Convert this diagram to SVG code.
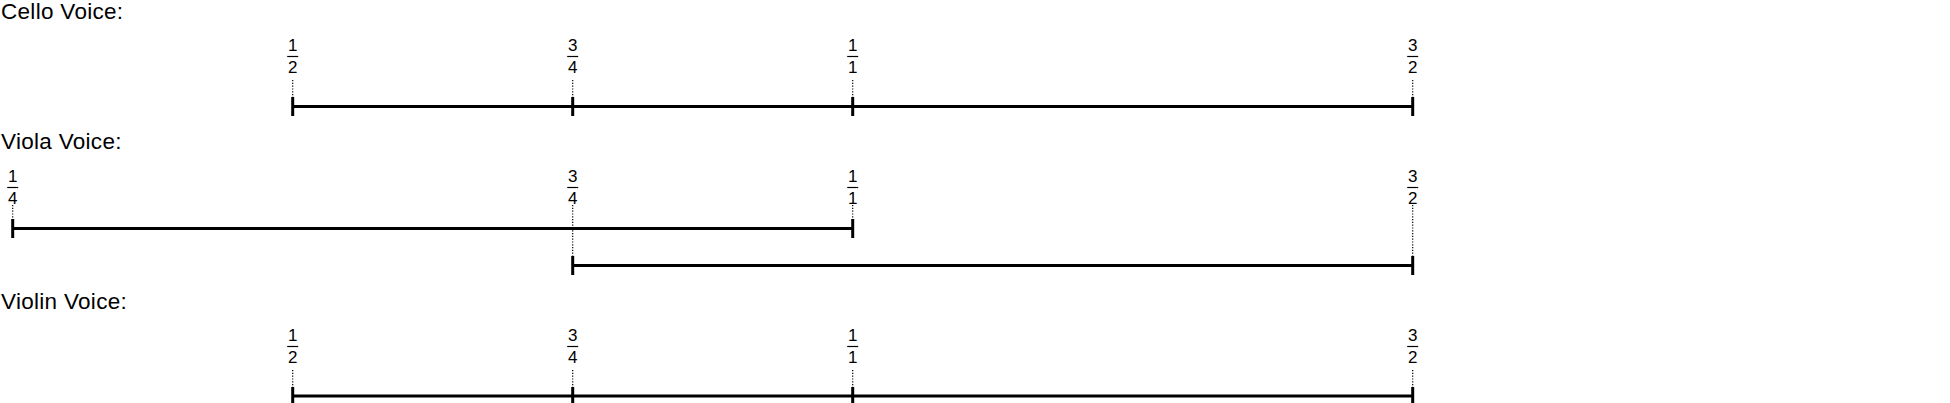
<svg xmlns="http://www.w3.org/2000/svg" width="1950" height="403" viewBox="0 0 1950 403">
<style>
.title{font-family:"Liberation Sans",Arial,sans-serif;font-size:22.5px;letter-spacing:0.3px;fill:#000}
.num{font-family:"Liberation Sans",Arial,sans-serif;font-size:17px;fill:#000;text-anchor:middle}
.bar{stroke:#000;stroke-width:1.2}
.dot{stroke:#000;stroke-width:1.2;stroke-dasharray:1.2 1.6}
.tick{stroke:#000;stroke-width:3}
.span{stroke:#000;stroke-width:2.8}
</style>
<rect width="1950" height="403" fill="#fff"/>

<g id="cello">
  <text class="title" x="1" y="19">Cello Voice:</text>
  <g id="cello-1-2"><text class="num" x="292.7" y="51">1</text><line class="bar" x1="287.2" y1="56.5" x2="298.2" y2="56.5"/><text class="num" x="292.7" y="72.5">2</text><line class="dot" x1="292.7" y1="80" x2="292.7" y2="97"/><line class="tick" x1="292.7" y1="97" x2="292.7" y2="116"/></g>
  <g id="cello-3-4"><text class="num" x="572.7" y="51">3</text><line class="bar" x1="567.2" y1="56.5" x2="578.2" y2="56.5"/><text class="num" x="572.7" y="72.5">4</text><line class="dot" x1="572.7" y1="80" x2="572.7" y2="97"/><line class="tick" x1="572.7" y1="97" x2="572.7" y2="116"/></g>
  <g id="cello-1-1"><text class="num" x="852.7" y="51">1</text><line class="bar" x1="847.2" y1="56.5" x2="858.2" y2="56.5"/><text class="num" x="852.7" y="72.5">1</text><line class="dot" x1="852.7" y1="80" x2="852.7" y2="97"/><line class="tick" x1="852.7" y1="97" x2="852.7" y2="116"/></g>
  <g id="cello-3-2"><text class="num" x="1412.7" y="51">3</text><line class="bar" x1="1407.2" y1="56.5" x2="1418.2" y2="56.5"/><text class="num" x="1412.7" y="72.5">2</text><line class="dot" x1="1412.7" y1="80" x2="1412.7" y2="97"/><line class="tick" x1="1412.7" y1="97" x2="1412.7" y2="116"/></g>
</g>

<g id="viola">
  <text class="title" x="1" y="149">Viola Voice:</text>
  <g id="viola-1-4"><text class="num" x="12.7" y="182">1</text><line class="bar" x1="7.2" y1="187.5" x2="18.2" y2="187.5"/><text class="num" x="12.7" y="203.5">4</text><line class="dot" x1="12.7" y1="205" x2="12.7" y2="220"/><line class="tick" x1="12.7" y1="219" x2="12.7" y2="238"/></g>
  <g id="viola-3-4"><text class="num" x="572.7" y="182">3</text><line class="bar" x1="567.2" y1="187.5" x2="578.2" y2="187.5"/><text class="num" x="572.7" y="203.5">4</text><line class="dot" x1="572.7" y1="205" x2="572.7" y2="257"/><line class="tick" x1="572.7" y1="256" x2="572.7" y2="275"/></g>
  <g id="viola-1-1"><text class="num" x="852.7" y="182">1</text><line class="bar" x1="847.2" y1="187.5" x2="858.2" y2="187.5"/><text class="num" x="852.7" y="203.5">1</text><line class="dot" x1="852.7" y1="205" x2="852.7" y2="220"/><line class="tick" x1="852.7" y1="219" x2="852.7" y2="238"/></g>
  <g id="viola-3-2"><text class="num" x="1412.7" y="182">3</text><line class="bar" x1="1407.2" y1="187.5" x2="1418.2" y2="187.5"/><text class="num" x="1412.7" y="203.5">2</text><line class="dot" x1="1412.7" y1="205" x2="1412.7" y2="257"/><line class="tick" x1="1412.7" y1="256" x2="1412.7" y2="275"/></g>
</g>

<g id="violin">
  <text class="title" x="1" y="308.5">Violin Voice:</text>
  <g id="violin-1-2"><text class="num" x="292.7" y="341">1</text><line class="bar" x1="287.2" y1="346.5" x2="298.2" y2="346.5"/><text class="num" x="292.7" y="362.5">2</text><line class="dot" x1="292.7" y1="370" x2="292.7" y2="387"/><line class="tick" x1="292.7" y1="387" x2="292.7" y2="406"/></g>
  <g id="violin-3-4"><text class="num" x="572.7" y="341">3</text><line class="bar" x1="567.2" y1="346.5" x2="578.2" y2="346.5"/><text class="num" x="572.7" y="362.5">4</text><line class="dot" x1="572.7" y1="370" x2="572.7" y2="387"/><line class="tick" x1="572.7" y1="387" x2="572.7" y2="406"/></g>
  <g id="violin-1-1"><text class="num" x="852.7" y="341">1</text><line class="bar" x1="847.2" y1="346.5" x2="858.2" y2="346.5"/><text class="num" x="852.7" y="362.5">1</text><line class="dot" x1="852.7" y1="370" x2="852.7" y2="387"/><line class="tick" x1="852.7" y1="387" x2="852.7" y2="406"/></g>
  <g id="violin-3-2"><text class="num" x="1412.7" y="341">3</text><line class="bar" x1="1407.2" y1="346.5" x2="1418.2" y2="346.5"/><text class="num" x="1412.7" y="362.5">2</text><line class="dot" x1="1412.7" y1="370" x2="1412.7" y2="387"/><line class="tick" x1="1412.7" y1="387" x2="1412.7" y2="406"/></g>
</g>

<g id="connectors">
  <line class="span" x1="292.7" y1="106.5" x2="572.7" y2="106.5"/>
  <line class="span" x1="572.7" y1="106.5" x2="852.7" y2="106.5"/>
  <line class="span" x1="852.7" y1="106.5" x2="1412.7" y2="106.5"/>
  <line class="span" x1="12.7" y1="228.5" x2="852.7" y2="228.5"/>
  <line class="span" x1="572.7" y1="265.5" x2="1412.7" y2="265.5"/>
  <line class="span" x1="292.7" y1="396" x2="572.7" y2="396"/>
  <line class="span" x1="572.7" y1="396" x2="852.7" y2="396"/>
  <line class="span" x1="852.7" y1="396" x2="1412.7" y2="396"/>
</g>
</svg>
